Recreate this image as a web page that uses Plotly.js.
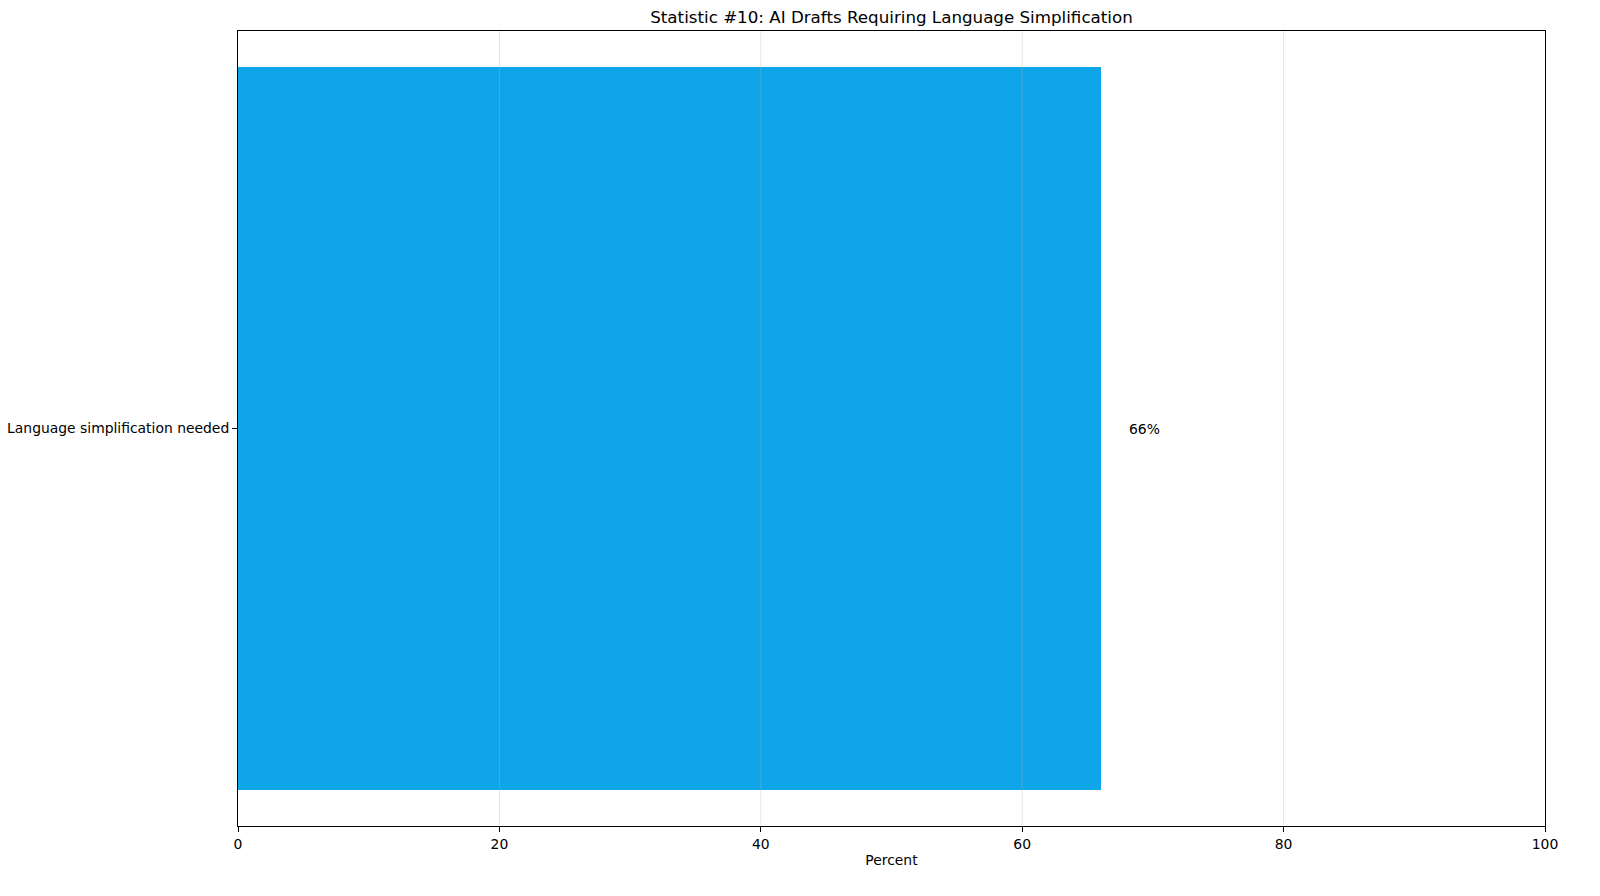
<!DOCTYPE html>
<html>
<head>
<meta charset="utf-8">
<script src="https://cdn.plot.ly/plotly-3.0.1.min.js"></script>
<style>html,body{margin:0;padding:0;background:#fff;}#chart{width:1600px;height:896px;}</style>
</head>
<body>
<div id="chart"></div>
<script>
const categories = ["Language simplification needed"];
const values = [66];
const labels = ["66%"];
const xTicks = [0, 20, 40, 60, 80, 100];
const titleText = "Statistic #10: AI Drafts Requiring Language Simplification";
const xTitle = "Percent";

const font = "DejaVu Sans, sans-serif";

const trace = {
  type: "bar",
  orientation: "h",
  x: values,
  y: categories,
  width: 0.8,
  marker: {color: "#0EA5E9"},
  hoverinfo: "none"
};

const gridShapes = xTicks.filter(v => v > 0 && v < 100).map(v => ({
  type: "line", xref: "x", yref: "paper", x0: v, x1: v, y0: 0, y1: 1,
  line: {color: "rgba(180,180,180,0.35)", width: 1}, layer: "above"
}));

const annotations = values.map((v, i) => ({
  x: v + 2, y: categories[i], text: labels[i], showarrow: false,
  xanchor: "left", yanchor: "middle", font: {family: font, size: 13.9, color: "#000"}
}));

const layout = {
  width: 1600, height: 896,
  margin: {l: 238, r: 55, t: 31, b: 70},
  paper_bgcolor: "#fff", plot_bgcolor: "#fff",
  title: {text: titleText, font: {family: font, size: 16.7, color: "#000"}, x: 0.5, xref: "paper", y: 0.981, yanchor: "middle"},
  xaxis: {
    range: [0, 100], tickvals: xTicks, ticktext: xTicks.map(String),
    showgrid: false, zeroline: false,
    showline: true, linecolor: "#000", linewidth: 1, mirror: true,
    ticks: "outside", ticklen: 5, tickcolor: "#000",
    tickfont: {family: font, size: 13.9, color: "#000"},
    title: {text: xTitle, font: {family: font, size: 13.9, color: "#000"}, standoff: 4}
  },
  yaxis: {
    range: [-0.44, 0.44], type: "category",
    showgrid: false, zeroline: false,
    showline: true, linecolor: "#000", linewidth: 1, mirror: true,
    ticks: "outside", ticklen: 5, tickcolor: "#000",
    tickfont: {family: font, size: 13.9, color: "#000"}
  },
  shapes: gridShapes,
  annotations: annotations,
  showlegend: false,
  bargap: 0
};

Plotly.newPlot("chart", [trace], layout, {displayModeBar: false, staticPlot: true});
</script>
</body>
</html>
